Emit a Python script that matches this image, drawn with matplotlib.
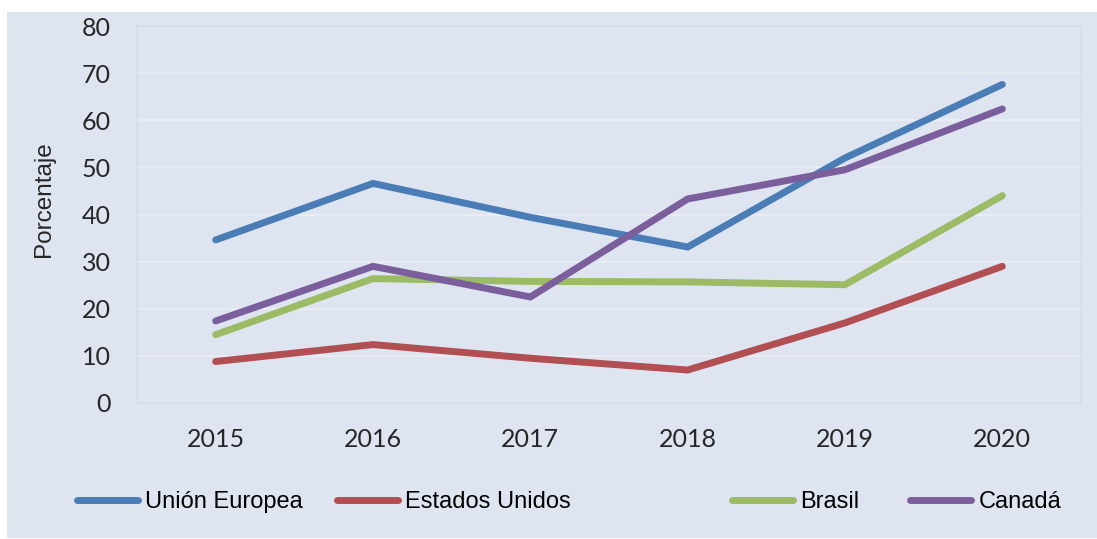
import numpy as np
import matplotlib.pyplot as plt
from matplotlib.patches import Rectangle

# Data
years = ["2015", "2016", "2017", "2018", "2019", "2020"]
union_europea = [34.6, 46.6, 39.4, 33.1, 52.0, 67.6]
estados_unidos = [8.8, 12.4, 9.5, 7.0, 17.0, 29.0]
brasil = [14.5, 26.4, 25.8, 25.7, 25.1, 44.0]
canada = [17.4, 29.0, 22.5, 43.3, 49.5, 62.4]

names = ["Unión Europea", "Estados Unidos", "Brasil", "Canadá"]
colors = ["#4a7db5", "#b24f52", "#9bbb64", "#7b5f9c"]
series = [union_europea, estados_unidos, brasil, canada]

bg = "#dfe4f1"
fig = plt.figure(figsize=(10.97, 5.39), dpi=100, facecolor="white")
fig.patches.append(Rectangle((7 / 1097, 1 / 539), 1 - 7 / 1097, 526 / 539,
                             transform=fig.transFigure, facecolor=bg,
                             edgecolor="none", zorder=-10))

ax = fig.add_axes([137 / 1097, 1 - 403 / 539, 944 / 1097, 377 / 539])
ax.set_facecolor(bg)

x = np.arange(len(years))
lines = []
for vals, c in zip(series, colors):
    ln, = ax.plot(x, vals, color=c, lw=5, solid_capstyle="round",
                  solid_joinstyle="miter")
    lines.append(ln)

ax.set_xlim(-0.5, len(years) - 0.5)
ax.set_ylim(0, 80)
ax.set_yticks(range(0, 81, 10))
ax.set_xticks(x)
ax.set_xticklabels(years)
ax.grid(axis="y", color="#e9ecf3", lw=1.5)
ax.set_axisbelow(True)
for s in ax.spines.values():
    s.set_color("#d8dce6")
    s.set_linewidth(1.2)
ax.tick_params(axis="both", length=0, labelsize=18, labelcolor="#262626")
ax.tick_params(axis="y", pad=19)
ax.tick_params(axis="x", pad=18)
for lab in ax.get_xticklabels() + ax.get_yticklabels():
    lab.set_fontfamily("Lato")

fig.text(44 / 1097, 1 - 199 / 539, "Porcentaje", rotation=90, ha="center",
         va="center", fontsize=17.5, family="Liberation Sans", color="#262626")

# legend entries placed separately to keep the original spacing
leg_x = [77, 337, 732, 910]
for ln, name, lx in zip(lines, names, leg_x):
    fig.legend([ln], [name], loc="center left",
               bbox_to_anchor=(lx / 1097, 1 - 502 / 539),
               frameon=False, borderpad=0, borderaxespad=0,
               handlelength=2.6, handletextpad=0.3,
               prop={"family": "Liberation Sans", "size": 17})

fig.savefig("out.png", dpi=100, facecolor="white")
